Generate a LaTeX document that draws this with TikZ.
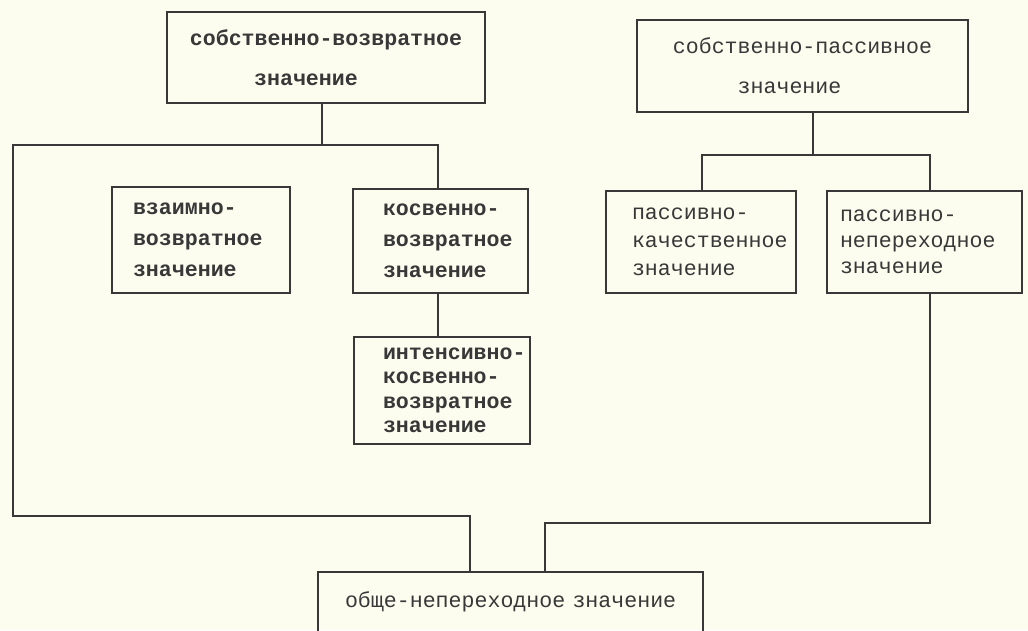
\documentclass[tikz,border=0pt]{standalone}
\usepackage{fontspec}
\setmonofont{Liberation Mono}
\hfuzz=200pt
\hbadness=10000
\definecolor{paper}{HTML}{FCFCEF}
\definecolor{ink}{HTML}{383838}
\begin{document}
\begin{tikzpicture}[x=1pt, y=-1pt,
  link/.style={draw=ink, line width=1.4pt, line join=miter},
  box/.style={draw=ink, line width=1.5pt, rectangle, inner sep=0pt, text=ink,
    font=\ttfamily\fontsize{21.6}{31}\selectfont},
  heavy/.style={font=\ttfamily\bfseries\fontsize{21.6}{31}\selectfont},
  lefttext/.style={align=left, text width=#1}]
  \fill[paper] (0,0) rectangle (1028,630);
  \useasboundingbox (0,0) rectangle (1028,630);
  \clip (0,0) rectangle (1028,630);

  % reflexive branch
  \node[box, heavy, minimum width=318pt, minimum height=91pt, align=center]
    (A) at (326,57.5) {собственно-возвратное\\[9pt]значение\hbox to 40pt{}};
  \node[box, heavy, minimum width=178pt, minimum height=106pt, lefttext=136pt]
    (V) at (201,240) {взаимно-\\возвратное\\значение};
  \node[box, heavy, minimum width=175pt, minimum height=104pt, lefttext=115pt]
    (K) at (440.5,241) {косвенно-\\возвратное\\значение};
  \node[box, heavy, minimum width=176pt, minimum height=107pt, lefttext=118pt,
    font=\ttfamily\bfseries\fontsize{21.6}{24.5}\selectfont]
    (I) at (442,390.5) {интенсивно-\\косвенно-\\возвратное\\значение};

  % passive branch
  \node[box, minimum width=331pt, minimum height=92pt, align=center]
    (B) at (802.5,66) {собственно-пассивное\\[9pt]значение\hbox to 26pt{}};
  \node[box, minimum width=190pt, minimum height=102pt, lefttext=138pt,
    font=\ttfamily\fontsize{21.6}{28}\selectfont]
    (PK) at (701,242) {пассивно-\\качественное\\значение};
  \node[box, minimum width=195pt, minimum height=102pt, lefttext=169pt,
    font=\ttfamily\fontsize{21.6}{26}\selectfont]
    (PN) at (924.5,242) {пассивно-\\непереходное\\значение};

  % common meaning
  \node[box, minimum width=385pt, minimum height=60pt, lefttext=331pt]
    (O) at (510.5,602) {\mbox{обще-непереходное значение}};

  % junction points
  \coordinate (jA) at (322,145);
  \coordinate (tl) at (13,145);
  \coordinate (tr) at (438,145);
  \coordinate (bl) at (13,516);
  \coordinate (jL) at (470,516);
  \coordinate (jB) at (813,155);
  \coordinate (jPK) at (702,155);
  \coordinate (jPN) at (930,155);
  \coordinate (jR) at (930,523);
  \coordinate (jR2) at (545,523);

  % connectors
  \draw[link] (jA |- A.south) -- (jA);
  \draw[link] (tr |- K.north) -- (tr) -- (tl) -- (bl) -- (jL) -- (jL |- O.north);
  \draw[link] (K.south -| tr) -- (tr |- I.north);
  \draw[link] (jB |- B.south) -- (jB);
  \draw[link] (jPK |- PK.north) -- (jPK) -- (jPN) -- (jPN |- PN.north);
  \draw[link] (jR |- PN.south) -- (jR) -- (jR2) -- (jR2 |- O.north);
\end{tikzpicture}
\end{document}
